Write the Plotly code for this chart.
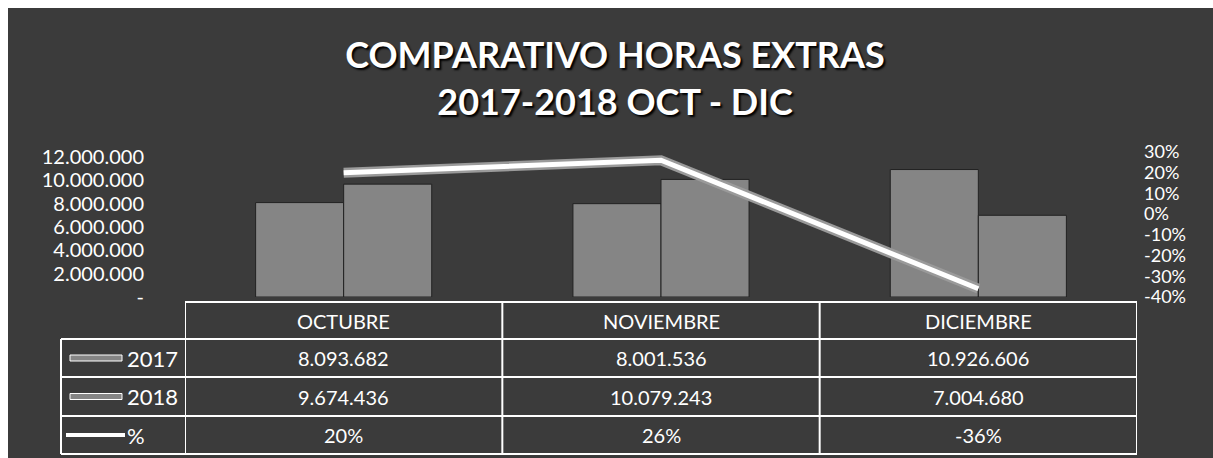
import plotly.graph_objects as go

# ---- data ----
months = ["OCTUBRE", "NOVIEMBRE", "DICIEMBRE"]
values_2017 = [8093682, 8001536, 10926606]
values_2018 = [9674436, 10079243, 7004680]
pct_change = [0.20, 0.26, -0.36]
label_2017 = ["8.093.682", "8.001.536", "10.926.606"]
label_2018 = ["9.674.436", "10.079.243", "7.004.680"]
label_pct = ["20%", "26%", "-36%"]
left_tickvals = [0, 2000000, 4000000, 6000000, 8000000, 10000000, 12000000]
left_ticktext = ["-", "2.000.000", "4.000.000", "6.000.000", "8.000.000", "10.000.000", "12.000.000"]
right_tickvals = [-0.4, -0.3, -0.2, -0.1, 0.0, 0.1, 0.2, 0.3]
right_ticktext = ["-40%", "-30%", "-20%", "-10%", "0%", "10%", "20%", "30%"]
series_names = ["2017", "2018", "%"]

# ---- style / geometry (page pixels) ----
W, H = 1213, 458
PLOT_L, PLOT_R, PLOT_T, PLOT_B = 185, 1137, 152, 297
ML, MR, MT, MB = PLOT_L, W - PLOT_R, PLOT_T, H - PLOT_B
PW = PLOT_R - PLOT_L
PH = PLOT_B - PLOT_T
BG = "#3b3b3b"
BAR = "#858585"
FONT = "Lato"

def py(pix):
    """page pixel row -> paper y"""
    return (PLOT_B - pix) / PH

def px(pix):
    """page pixel column -> paper x"""
    return (pix - PLOT_L) / PW

fig = go.Figure()
fig.add_trace(go.Bar(x=months, y=values_2017, name=series_names[0],
                     marker=dict(color=BAR, line=dict(color="#222222", width=1))))
fig.add_trace(go.Bar(x=months, y=values_2018, name=series_names[1],
                     marker=dict(color=BAR, line=dict(color="#222222", width=1))))
fig.add_trace(go.Scatter(x=months, y=pct_change, yaxis="y2", mode="lines",
                         line=dict(color="#9a9a9a", width=10), showlegend=False,
                         hoverinfo="skip"))
fig.add_trace(go.Scatter(x=months, y=pct_change, yaxis="y2", mode="lines",
                         name=series_names[2], line=dict(color="white", width=5)))

shapes = []
annotations = []
white_line = dict(color="white", width=2)

# table geometry (page pixel rows)
rows = [302, 339, 377, 416, 454]
leg_left = px(61)

shapes.append(dict(type="line", xref="x", yref="paper", x0=-0.5, x1=2.5,
                   y0=py(rows[0]), y1=py(rows[0]), line=white_line))
for r in rows[1:]:
    shapes.append(dict(type="line", xref="paper", yref="paper", x0=leg_left, x1=1,
                       y0=py(r), y1=py(r), line=white_line))
for i in range(len(months) + 1):
    shapes.append(dict(type="line", xref="x", yref="paper", x0=i - 0.5, x1=i - 0.5,
                       y0=py(rows[0]), y1=py(rows[-1]), line=white_line))
shapes.append(dict(type="line", xref="paper", yref="paper", x0=leg_left, x1=leg_left,
                   y0=py(rows[1]), y1=py(rows[-1]), line=white_line))

cell_font = dict(family=FONT, size=20, color="white")
for i, m in enumerate(months):
    annotations.append(dict(x=m, xref="x", y=(py(rows[0]) + py(rows[1])) / 2, yref="paper",
                            yanchor="middle", text=m, showarrow=False, font=cell_font))
    for k, labels in enumerate([label_2017, label_2018, label_pct]):
        annotations.append(dict(x=m, xref="x", y=(py(rows[k + 1]) + py(rows[k + 2])) / 2,
                                yref="paper", yanchor="middle", text=labels[i],
                                showarrow=False, font=cell_font))

# legend column
for k, name in enumerate(series_names):
    yc = (py(rows[k + 1]) + py(rows[k + 2])) / 2
    annotations.append(dict(x=px(125), xref="paper", y=yc, yref="paper", text=name,
                            showarrow=False, xanchor="left", yanchor="middle",
                            font=dict(family=FONT, size=22, color="white")))
    if k < 2:
        shapes.append(dict(type="rect", xref="paper", yref="paper", x0=px(70), x1=px(122),
                           y0=yc - 3 / PH, y1=yc + 3 / PH, fillcolor=BAR,
                           line=dict(color="white", width=1)))
    else:
        shapes.append(dict(type="line", xref="paper", yref="paper", x0=px(66), x1=px(125),
                           y0=yc, y1=yc, line=dict(color="white", width=4)))

# white scan margins (top and left)
shapes.append(dict(type="rect", xref="paper", yref="paper", x0=px(0), x1=px(W),
                   y0=py(8), y1=py(0), fillcolor="white", line=dict(width=0)))
shapes.append(dict(type="rect", xref="paper", yref="paper", x0=px(0), x1=px(8),
                   y0=py(H), y1=py(0), fillcolor="white", line=dict(width=0)))

fig.update_layout(
    width=W, height=H,
    margin=dict(l=ML, r=MR, t=MT, b=MB),
    paper_bgcolor=BG, plot_bgcolor=BG,
    barmode="group", bargap=0.445, bargroupgap=0,
    showlegend=False,
    title=dict(text="COMPARATIVO HORAS EXTRAS<br>2017-2018 OCT - DIC",
               x=615 / W, xanchor="center", y=1 - 68 / H, yanchor="top",
               font=dict(family=FONT, size=36, color="white", weight="bold",
                         shadow="2px 2px 2px black")),
    xaxis=dict(range=[-0.5, 2.5], showticklabels=False, showgrid=False,
               zeroline=False, showline=False),
    yaxis=dict(range=[0, 12.43e6], tickvals=left_tickvals, ticktext=left_ticktext,
               showgrid=False, zeroline=False, showline=False, ticks="",
               ticklabelstandoff=40,
               tickfont=dict(family=FONT, size=20, color="white")),
    yaxis2=dict(range=[-0.4, 0.3], overlaying="y", side="right",
                tickvals=right_tickvals, ticktext=right_ticktext,
                showgrid=False, zeroline=False, showline=False, ticks="",
                ticklabelstandoff=6,
                tickfont=dict(family=FONT, size=18, color="white")),
    shapes=shapes,
    annotations=annotations,
)

fig.write_html("out.html", config={"displayModeBar": False},
               post_script="document.body.style.margin='0';document.body.style.overflow='hidden';")
